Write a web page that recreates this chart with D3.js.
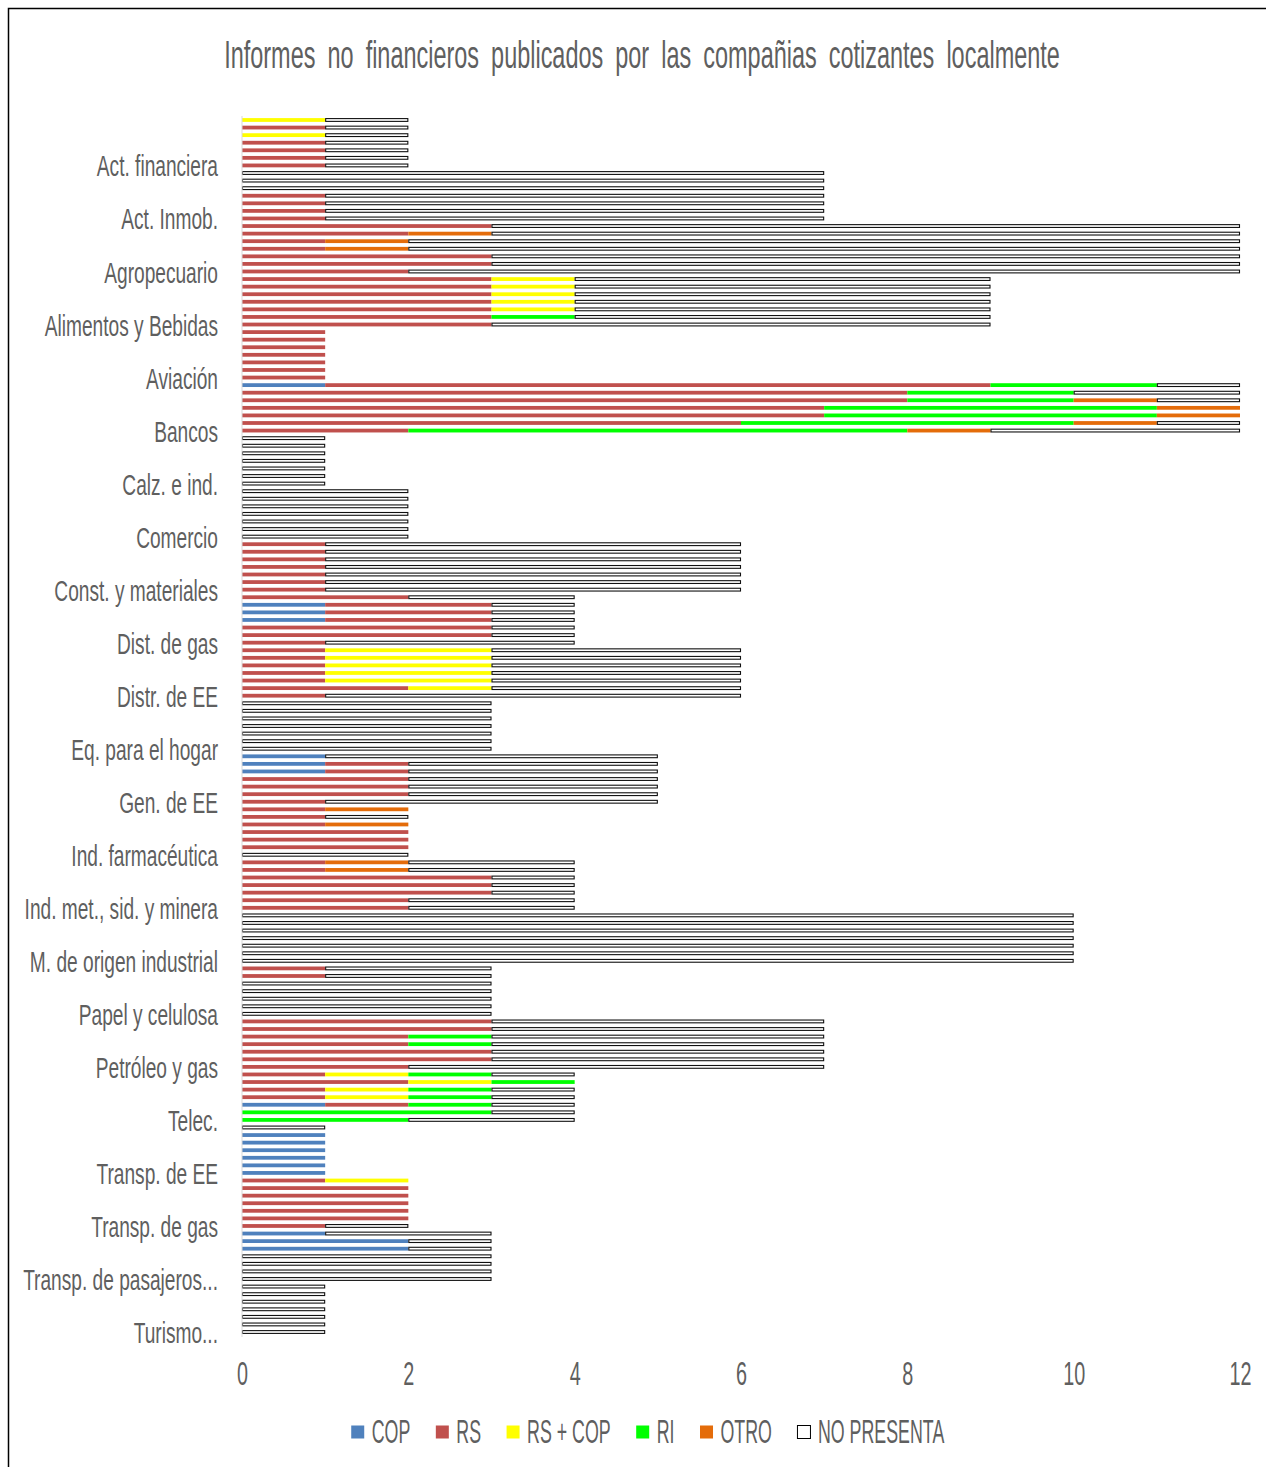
<!DOCTYPE html>
<html>
<head>
<meta charset="utf-8">
<script src="https://cdn.jsdelivr.net/npm/d3@7"></script>
<style>
  html, body { margin: 0; padding: 0; background: #fff; }
  svg { display: block; }
  text { font-family: "Liberation Sans", Arial, sans-serif; fill: #5f5f5f; }
</style>
</head>
<body>
<svg id="chart" width="1266" height="1467"></svg>
<script>
// ---------------- DATA ----------------
const title = "Informes no financieros publicados por las compañias cotizantes localmente";
const categories = [
  "Act. financiera", "Act. Inmob.", "Agropecuario", "Alimentos y Bebidas", "Aviación",
  "Bancos", "Calz. e ind.", "Comercio", "Const. y materiales", "Dist. de gas",
  "Distr. de EE", "Eq. para el hogar", "Gen. de EE", "Ind. farmacéutica",
  "Ind. met., sid. y minera", "M. de origen industrial", "Papel y celulosa",
  "Petróleo y gas", "Telec.", "Transp. de EE", "Transp. de gas",
  "Transp. de pasajeros...", "Turismo..."
];
const seriesNames = ["COP", "RS", "RS + COP", "RI", "OTRO", "NO PRESENTA"];
const seriesColors = ["#4F81BD", "#C0504D", "#FFFF00", "#00FF00", "#E46C0A", "#FFFFFF"];
const xTicks = [0, 2, 4, 6, 8, 10, 12];

// seven bars per category, values per series
const COP = [
  [0,0,0,0,0,0,0],[0,0,0,0,0,0,0],[0,0,0,0,0,0,0],[0,0,0,0,0,0,0],[0,0,0,0,0,0,0],
  [1,0,0,0,0,0,0],[0,0,0,0,0,0,0],[0,0,0,0,0,0,0],[0,0,0,0,0,0,0],[0,1,1,1,0,0,0],
  [0,0,0,0,0,0,0],[0,0,0,0,0,0,0],[1,1,1,0,0,0,0],[0,0,0,0,0,0,0],[0,0,0,0,0,0,0],
  [0,0,0,0,0,0,0],[0,0,0,0,0,0,0],[0,0,0,0,0,0,0],[0,0,0,0,1,0,0],[0,1,1,1,1,1,1],
  [0,0,0,0,0,0,0],[1,2,2,0,0,0,0],[0,0,0,0,0,0,0]
];
const RS = [
  [0,1,0,1,1,1,1],[0,0,0,1,1,1,1],[3,2,1,1,3,3,2],[3,3,3,3,3,3,3],[1,1,1,1,1,1,1],
  [8,8,8,7,7,6,2],[0,0,0,0,0,0,0],[0,0,0,0,0,0,0],[1,1,1,1,1,1,1],[2,2,2,2,3,3,1],
  [1,1,1,1,1,2,1],[0,0,0,0,0,0,0],[0,1,1,2,2,2,1],[1,1,1,2,2,2,0],[1,1,3,3,3,2,2],
  [0,0,0,0,0,0,0],[1,1,0,0,0,0,0],[3,3,2,2,3,3,2],[1,2,1,1,1,0,0],[0,0,0,0,0,0,0],
  [1,2,2,2,2,2,1],[0,0,0,0,0,0,0],[0,0,0,0,0,0,0]
];
const RS_COP = [
  [1,0,1,0,0,0,0],[0,0,0,0,0,0,0],[0,0,0,0,0,0,0],[1,1,1,1,1,0,0],[0,0,0,0,0,0,0],
  [0,0,0,0,0,0,0],[0,0,0,0,0,0,0],[0,0,0,0,0,0,0],[0,0,0,0,0,0,0],[0,0,0,0,0,0,0],
  [2,2,2,2,2,1,0],[0,0,0,0,0,0,0],[0,0,0,0,0,0,0],[0,0,0,0,0,0,0],[0,0,0,0,0,0,0],
  [0,0,0,0,0,0,0],[0,0,0,0,0,0,0],[0,0,0,0,0,0,0],[1,1,1,1,0,0,0],[0,0,0,0,0,0,0],
  [1,0,0,0,0,0,0],[0,0,0,0,0,0,0],[0,0,0,0,0,0,0]
];
const RI = [
  [0,0,0,0,0,0,0],[0,0,0,0,0,0,0],[0,0,0,0,0,0,0],[0,0,0,0,0,1,0],[0,0,0,0,0,0,0],
  [2,2,2,4,4,4,6],[0,0,0,0,0,0,0],[0,0,0,0,0,0,0],[0,0,0,0,0,0,0],[0,0,0,0,0,0,0],
  [0,0,0,0,0,0,0],[0,0,0,0,0,0,0],[0,0,0,0,0,0,0],[0,0,0,0,0,0,0],[0,0,0,0,0,0,0],
  [0,0,0,0,0,0,0],[0,0,0,0,0,0,0],[0,0,1,1,0,0,0],[1,1,1,1,1,3,2],[0,0,0,0,0,0,0],
  [0,0,0,0,0,0,0],[0,0,0,0,0,0,0],[0,0,0,0,0,0,0]
];
const OTRO = [
  [0,0,0,0,0,0,0],[0,0,0,0,0,0,0],[0,1,1,1,0,0,0],[0,0,0,0,0,0,0],[0,0,0,0,0,0,0],
  [0,0,1,1,1,1,1],[0,0,0,0,0,0,0],[0,0,0,0,0,0,0],[0,0,0,0,0,0,0],[0,0,0,0,0,0,0],
  [0,0,0,0,0,0,0],[0,0,0,0,0,0,0],[0,0,0,0,0,0,0],[1,0,1,0,0,0,0],[1,1,0,0,0,0,0],
  [0,0,0,0,0,0,0],[0,0,0,0,0,0,0],[0,0,0,0,0,0,0],[0,0,0,0,0,0,0],[0,0,0,0,0,0,0],
  [0,0,0,0,0,0,0],[0,0,0,0,0,0,0],[0,0,0,0,0,0,0]
];
const NO_PRESENTA = [
  [1,1,1,1,1,1,1],[7,7,7,6,6,6,6],[9,9,10,10,9,9,10],[5,5,5,5,5,5,6],[0,0,0,0,0,0,0],
  [1,2,1,0,0,1,3],[1,1,1,1,1,1,1],[2,2,2,2,2,2,2],[5,5,5,5,5,5,5],[2,1,1,1,1,1,3],
  [3,3,3,3,3,3,5],[3,3,3,3,3,3,3],[4,3,3,3,3,3,4],[0,1,0,0,0,0,2],[2,2,1,1,1,2,2],
  [10,10,10,10,10,10,10],[2,2,3,3,3,3,3],[4,4,4,4,4,4,5],[1,0,1,1,1,1,2],[1,0,0,0,0,0,0],
  [0,0,0,0,0,0,1],[2,1,1,3,3,3,3],[1,1,1,1,1,1,1]
];

// ---------------- BUILD ----------------
const seriesData = [COP, RS, RS_COP, RI, OTRO, NO_PRESENTA];
const barsPerCat = 7;
const rows = [];
categories.forEach((c, g) => {
  for (let b = 0; b < barsPerCat; b++) {
    const r = { idx: g * barsPerCat + b, cat: c };
    seriesNames.forEach((s, k) => { r[s] = seriesData[k][g][b]; });
    rows.push(r);
  }
});

const svg = d3.select("#chart");
const W = 1266, H = 1467;
const SX = 0.66;   // horizontal condensation to mimic the narrow font
const SXL = 0.54;  // legend condensation

// outer frame
svg.append("rect").attr("x", 8.5).attr("y", 8.5).attr("width", W + 20).attr("height", H + 20)
  .attr("fill", "#fff").attr("stroke", "#000").attr("stroke-width", 1.5);

const x = d3.scaleLinear().domain([0, 12]).range([242, 1240]);
const y = d3.scaleBand().domain(rows.map(r => r.idx)).range([116.2, 1335.8])
  .paddingInner(0.5).paddingOuter(0.25);
const color = d3.scaleOrdinal().domain(seriesNames).range(seriesColors);

const stacked = d3.stack().keys(seriesNames)(rows);

const gBars = svg.append("g");
stacked.forEach(layer => {
  const isNP = layer.key === "NO PRESENTA";
  gBars.append("g")
    .selectAll("rect")
    .data(layer.filter(d => d[1] - d[0] > 0))
    .join("rect")
    .attr("x", d => x(d[0]) + (isNP ? 0.5 : 0))
    .attr("y", d => y(d.data.idx) + (isNP ? 0.5 : 0))
    .attr("width", d => x(d[1]) - x(d[0]) - (isNP ? 1 : 0))
    .attr("height", y.bandwidth() - (isNP ? 1 : 0))
    .attr("fill", color(layer.key))
    .attr("stroke", isNP ? "#111" : "none")
    .attr("stroke-width", isNP ? 1.1 : 0);
});

// vertical axis line
svg.append("line").attr("x1", x(0)).attr("x2", x(0))
  .attr("y1", 116).attr("y2", 1337).attr("stroke", "#d9d9d9").attr("stroke-width", 1);

// category labels (at the last bar of each group)
svg.append("g").selectAll("text")
  .data(categories)
  .join("text")
  .attr("transform", (d, i) => {
    const last = i * barsPerCat + barsPerCat - 1;
    return `translate(218,${y(last) + y.bandwidth() / 2 + 1}) scale(${SX},1)`;
  })
  .attr("text-anchor", "end")
  .attr("dominant-baseline", "central")
  .attr("font-size", 29)
  .text(d => d);

// x axis tick labels
const xAxis = d3.axisBottom(x).tickValues(xTicks).tickSize(0).tickPadding(0).tickFormat(d3.format("d"));
const gx = svg.append("g").attr("transform", "translate(0,1373)").call(xAxis);
gx.select(".domain").remove();
gx.selectAll("text")
  .attr("y", 0).attr("dy", null)
  .attr("dominant-baseline", "central")
  .attr("font-size", 33)
  .attr("font-family", "Liberation Sans, Arial, sans-serif")
  .attr("fill", "#5f5f5f")
  .attr("transform", `scale(0.6,1)`);

// title (condensed to the reference width)
const tTitle = svg.append("text")
  .attr("text-anchor", "middle")
  .attr("dominant-baseline", "central")
  .attr("font-size", 38)
  .attr("word-spacing", 9)
  .text(title);
const tLen = tTitle.node().getComputedTextLength();
tTitle.attr("transform", `translate(642,55) scale(${836 / tLen},1)`);

// legend
const gLeg = svg.append("g");
let cursor = 0;
seriesNames.forEach((s, k) => {
  const it = gLeg.append("g").attr("transform", `translate(${cursor},0)`);
  it.append("rect").attr("x", 0.5).attr("y", -6.5).attr("width", 13).attr("height", 13)
    .attr("fill", seriesColors[k])
    .attr("stroke", s === "NO PRESENTA" ? "#000" : "none").attr("stroke-width", 1);
  const t = it.append("text")
    .attr("transform", `translate(21,0) scale(${SXL},1)`)
    .attr("dominant-baseline", "central")
    .attr("font-size", 33)
    .text(s);
  const w = t.node().getComputedTextLength() * SXL;
  cursor += 21 + w + 25;
});
const legW = cursor - 25;
gLeg.attr("transform", `translate(${647.5 - legW / 2},1432)`);
</script>
</body>
</html>
